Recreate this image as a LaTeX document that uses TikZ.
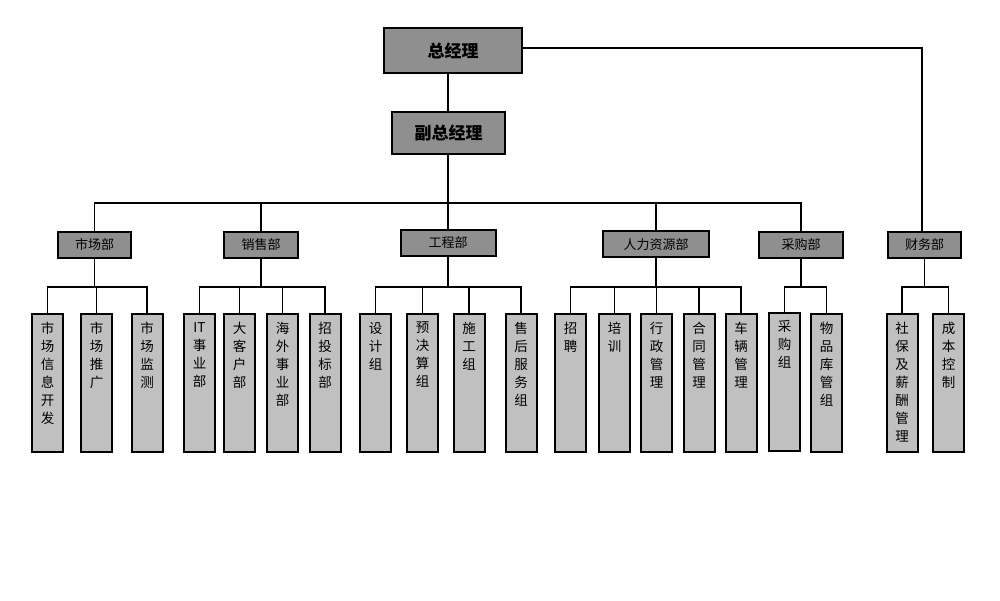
\documentclass[tikz,border=0pt]{standalone}
\usepackage{fontspec}
\newfontfamily\cjk{Noto Sans CJK SC}
\definecolor{boxdark}{RGB}{143,143,143}
\definecolor{boxlight}{RGB}{192,192,192}
\newcommand\mysub[4]{%
  \node[subbox] (#1) at (#2,#3) {};
  \node[vtext] (#1t) at ([yshift=-9pt]#1.north) {#4};}
\begin{document}
\begin{tikzpicture}[x=1pt,y=-1pt,
  topbox/.style={draw=black, line width=2pt, fill=boxdark, inner sep=0pt,
    font=\cjk\bfseries\fontsize{17}{17}\selectfont},
  deptbox/.style={draw=black, line width=2pt, fill=boxdark, inner sep=0pt,
    minimum height=26pt, font=\cjk\fontsize{13}{13}\selectfont},
  subbox/.style={draw=black, line width=2pt, fill=boxlight, inner sep=0pt,
    minimum width=31pt, minimum height=138pt},
  vtext/.style={font=\cjk\fontsize{13.5}{18}\selectfont, align=center,
    anchor=north, inner sep=0pt},
  conn/.style={line width=1.6pt, draw=black}
]
\fill[white] (0,0) rectangle (1000,601);
\useasboundingbox (0,0) rectangle (1000,601);

% top
\node[topbox, minimum width=138pt, minimum height=45pt] (gm) at (453,51) {总经理};
\node[topbox, minimum width=113pt, minimum height=42pt] (vgm) at (448.5,133) {副总经理};

% departments
\node[deptbox, minimum width=73pt] (mkt) at (94.5,245) {市场部};
\node[deptbox, minimum width=74pt] (sal) at (261,245) {销售部};
\node[deptbox, minimum width=95pt] (eng) at (448,243) {工程部};
\node[deptbox, minimum width=106pt] (hr) at (656,244.5) {人力资源部};
\node[deptbox, minimum width=84pt] (pur) at (801,245) {采购部};
\node[deptbox, minimum width=73pt] (fin) at (924.5,245) {财务部};

% sub units
\mysub{s11}{47.5}{383}{市\\场\\信\\息\\开\\发}
\mysub{s12}{96.5}{383}{市\\场\\推\\广}
\mysub{s13}{147}{383}{市\\场\\监\\测}
\mysub{s21}{199.5}{383}{IT\\事\\业\\部}
\mysub{s22}{239.5}{383}{大\\客\\户\\部}
\mysub{s23}{282.5}{383}{海\\外\\事\\业\\部}
\mysub{s24}{325}{383}{招\\投\\标\\部}
\mysub{s31}{375.5}{383}{设\\计\\组}
\mysub{s32}{422.5}{383}{预\\决\\算\\组}
\mysub{s33}{469}{383}{施\\工\\组}
\mysub{s34}{521}{383}{售\\后\\服\\务\\组}
\mysub{s41}{570.5}{383}{招\\聘}
\mysub{s42}{614.5}{383}{培\\训}
\mysub{s43}{656.5}{383}{行\\政\\管\\理}
\mysub{s44}{699}{383}{合\\同\\管\\理}
\mysub{s45}{741}{383}{车\\辆\\管\\理}
\mysub{s51}{784.5}{381.5}{采\\购\\组}
\mysub{s52}{826.5}{383}{物\\品\\库\\管\\组}
\mysub{s61}{902}{383}{社\\保\\及\\薪\\酬\\管\\理}
\mysub{s62}{948.5}{383}{成\\本\\控\\制}

% bus coordinates
\coordinate (bus) at (448,203);
\coordinate (fincorner) at (922,48);
\coordinate (mktb) at (94.5,287);
\coordinate (salb) at (261,287);
\coordinate (engb) at (448,287);
\coordinate (hrb) at (656,287);
\coordinate (purb) at (801,287);
\coordinate (finb) at (924.5,287);

% top connectors
\draw[conn] (bus |- gm.south) -- (bus |- vgm.north);
\draw[conn] (bus |- vgm.south) -- (bus);
\draw[conn] (gm.east |- fincorner) -- (fincorner) -- (fincorner |- fin.north);

% main bus
\draw[conn] (mkt.north) |- (bus);
\draw[conn] (pur.north) |- (bus);
\draw[conn] (sal.north) -- (sal.north |- bus);
\draw[conn] (eng.north) -- (eng.north |- bus);
\draw[conn] (hr.north) -- (hr.north |- bus);

% sub buses
\draw[conn] (mkt.south) -- (mktb);
\draw[conn] (s11.north) |- (mktb);
\draw[conn] (s12.north) -- (s12.north |- mktb);
\draw[conn] (s13.north) |- (mktb);

\draw[conn] (sal.south) -- (salb);
\draw[conn] (s21.north) |- (salb);
\draw[conn] (s22.north) |- (salb);
\draw[conn] (s23.north) |- (salb);
\draw[conn] (s24.north) |- (salb);

\draw[conn] (eng.south) -- (engb);
\draw[conn] (s31.north) |- (engb);
\draw[conn] (s32.north) |- (engb);
\draw[conn] (s33.north) |- (engb);
\draw[conn] (s34.north) |- (engb);

\draw[conn] (hr.south) -- (hrb);
\draw[conn] (s41.north) |- (hrb);
\draw[conn] (s42.north) |- (hrb);
\draw[conn] (s43.north) |- (hrb);
\draw[conn] (s44.north) |- (hrb);
\draw[conn] (s45.north) |- (hrb);

\draw[conn] (pur.south) -- (purb);
\draw[conn] (s51.north) |- (purb);
\draw[conn] (s52.north) |- (purb);

\draw[conn] (fin.south) -- (finb);
\draw[conn] (s61.north) |- (finb);
\draw[conn] (s62.north) |- (finb);
\end{tikzpicture}
\end{document}
